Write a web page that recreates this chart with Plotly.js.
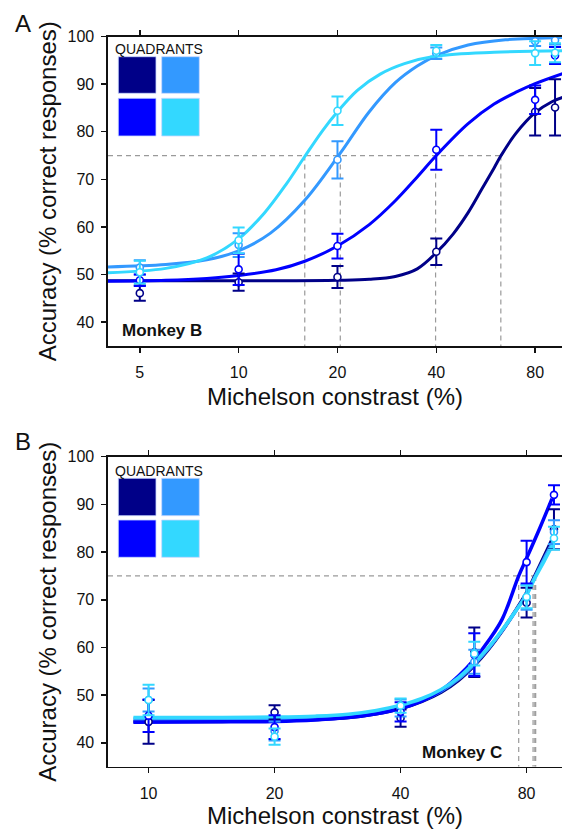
<!DOCTYPE html>
<html>
<head>
<meta charset="utf-8">
<script src="https://cdn.plot.ly/plotly-3.0.1.min.js"></script>
<style>html,body{margin:0;padding:0;background:#fff;}#chart{width:562px;height:829px;}</style>
</head>
<body>
<div id="chart"></div>
<script>
// ---------------- DATA ----------------
const quadrantNames = ['Q1', 'Q2', 'Q3', 'Q4'];
const quadrantColors = ['#000088', '#3399FF', '#0000FF', '#33D8FF'];

// Panel A (Monkey B)
const tickValsA = [5, 10, 20, 40, 80];
const tickTextA = ['5', '10', '20', '40', '80'];
const contrastA = [5, 10, 20, 40, 80, 92];
const accA_Q1 = [46.1, 48.4, 49.5, 54.8, 84.2, 85.1];
const errA_Q1 = [1.6, 1.8, 2.3, 2.8, 5.0, 5.9];
const accA_Q2 = [51.5, 56.2, 74.1, 96.5, 99.0, 99.2];
const errA_Q2 = [1.5, 2.5, 3.9, 1.2, 1.0, 0.9];
const accA_Q3 = [48.8, 51.1, 56.0, 76.2, 86.7, 96.0];
const errA_Q3 = [1.2, 3.3, 2.6, 4.2, 3.0, 1.8];
const accA_Q4 = [50.5, 57.2, 84.4, 97.0, 96.5, 96.6];
const errA_Q4 = [2.4, 2.7, 3.0, 1.2, 2.5, 2.0];

// fitted curves panel A
const fitXA_Q1 = [4, 15, 20, 25, 30, 35, 40, 45, 50, 55, 60, 63, 70, 80, 90, 97];
const fitYA_Q1 = [48.7, 48.7, 48.8, 49.0, 49.6, 51.2, 54.6, 58.5, 63.0, 67.9, 72.4, 75, 79.7, 84, 86.3, 87.2];
const fitXA_Q2 = [4, 6, 8, 10, 12.5, 15.9, 20.4, 25, 30, 35, 40, 50, 65, 97];
const fitYA_Q2 = [51.6, 52.1, 53.1, 55, 58.7, 65.6, 75.5, 84.2, 90.3, 93.8, 96, 98.2, 99.3, 99.8];
const fitXA_Q3 = [4, 6, 8, 10, 13, 15.9, 20, 25, 30, 35, 40, 50, 60, 70, 80, 97];
const fitYA_Q3 = [48.6, 48.8, 49.2, 49.8, 51, 52.8, 56, 60.5, 65.5, 70.5, 75, 81.7, 85.8, 88.3, 90.1, 92.2];
const fitXA_Q4 = [4, 6, 8, 10, 12, 14, 15.9, 18, 20, 23, 27, 32, 40, 60, 97];
const fitYA_Q4 = [50.4, 51.3, 53.5, 57.5, 63, 69.1, 74.8, 80.2, 84.2, 88.7, 92.1, 94.3, 95.9, 96.7, 97];
const thresholdsA = [15.9, 20.4, 39.8, 62.9];

// Panel B (Monkey C)
const tickValsB = [10, 20, 40, 80];
const tickTextB = ['10', '20', '40', '80'];
const contrastB = [10, 20, 40, 60, 80, 93];
const accB_Q1 = [44.4, 46.4, 45.2, 59.0, 69.4, 84.8];
const errB_Q1 = [4.6, 1.5, 1.8, 5.2, 3.1, 4.2];
const accB_Q2 = [49.0, 42.5, 47.3, 57.0, 70.5, 84.2];
const errB_Q2 = [2.4, 2.0, 1.8, 2.5, 2.6, 2.5];
const accB_Q3 = [45.7, 43.3, 46.5, 58.5, 77.9, 92.0];
const errB_Q3 = [3.4, 2.5, 2.0, 4.5, 4.5, 2.0];
const accB_Q4 = [49.0, 41.3, 47.8, 58.7, 70.6, 82.9];
const errB_Q4 = [3.2, 1.7, 1.5, 2.5, 2.4, 2.4];

const fitXB = [9.2, 15, 20, 25, 30, 35, 40, 45, 50, 55, 60, 65, 70, 75, 80, 84, 88, 93];
const fitYB_Q1 = [44.5, 44.5, 44.6, 44.9, 45.3, 46.1, 47.2, 48.7, 50.6, 53.1, 56.2, 59.7, 63.5, 67.5, 71.5, 75.3, 79, 83.5];
const fitYB_Q2 = [45.0, 45.0, 45.1, 45.3, 45.7, 46.4, 47.5, 48.9, 50.9, 53.4, 56.5, 59.9, 63.6, 67.4, 71.2, 75.0, 78.5, 82.5];
const fitYB_Q4 = [45.3, 45.3, 45.4, 45.6, 46.0, 46.8, 47.9, 49.3, 51.2, 53.7, 56.8, 60.1, 63.7, 67.4, 71.0, 74.8, 78, 82];
const fitXB_Q3 = [9.2, 15, 20, 25, 30, 35, 40, 45, 50, 55, 60, 65, 70, 76.6, 80, 86, 92];
const fitYB_Q3 = [44.3, 44.4, 44.5, 44.8, 45.3, 46.1, 47.2, 48.8, 51, 54, 57.5, 61.5, 66, 75, 78.7, 85, 91.2];
const thresholdsB = [76.6, 82.9, 83.7, 84.1];

const criterion = 75;
const yRange = [35, 100];
const yTicks = [40, 50, 60, 70, 80, 90, 100];
const xRangeA = [4.0, 96.6];
const xRangeB = [8.0, 97.2];

// ---------------- BUILD ----------------
const FONT = 'Liberation Sans, Arial, Helvetica, sans-serif';
const W = 562, H = 829, ML = 108;
const px = x => (x - ML) / (W - ML);
const py = y => (H - y) / H;

const traces = [];
function dashTraces(th, xr, xa, ya) {
  const vx = [], vy = [];
  th.forEach(t => { vx.push(t, t, null); vy.push(criterion, yRange[0], null); });
  traces.push({x: vx, y: vy, xaxis: xa, yaxis: ya, mode: 'lines', hoverinfo: 'skip',
    line: {color: '#9a9a9a', width: 1.2, dash: '5px,4px'}, showlegend: false});
  traces.push({x: [xr[0], Math.max(...th)], y: [criterion, criterion], xaxis: xa, yaxis: ya, mode: 'lines',
    hoverinfo: 'skip', line: {color: '#9a9a9a', width: 1.2, dash: '5px,4px'}, showlegend: false});
}
function fit(x, y, c, xa, ya, w) {
  traces.push({x, y, xaxis: xa, yaxis: ya, mode: 'lines', line: {color: c, width: w, shape: 'spline', smoothing: 1},
    showlegend: false, hoverinfo: 'skip'});
}
function pts(x, y, e, c, xa, ya, name) {
  traces.push({x, y, xaxis: xa, yaxis: ya, mode: 'markers', name,
    error_y: {type: 'data', array: e, visible: true, color: c, thickness: 2, width: 6},
    marker: {symbol: 'circle', size: 7, color: 'white', line: {color: c, width: 1.6}}, showlegend: false});
}

dashTraces(thresholdsA, xRangeA, 'x', 'y');
dashTraces(thresholdsB, xRangeB, 'x2', 'y2');

const fitsA = [[fitXA_Q1, fitYA_Q1], [fitXA_Q2, fitYA_Q2], [fitXA_Q3, fitYA_Q3], [fitXA_Q4, fitYA_Q4]];
const ptsA = [[accA_Q1, errA_Q1], [accA_Q2, errA_Q2], [accA_Q3, errA_Q3], [accA_Q4, errA_Q4]];
const fitsB = [[fitXB, fitYB_Q1], [fitXB, fitYB_Q2], [fitXB_Q3, fitYB_Q3], [fitXB, fitYB_Q4]];
const ptsB = [[accB_Q1, errB_Q1], [accB_Q2, errB_Q2], [accB_Q3, errB_Q3], [accB_Q4, errB_Q4]];

fitsA.forEach((f, i) => fit(f[0], f[1], quadrantColors[i], 'x', 'y', 3));
ptsA.forEach((p, i) => pts(contrastA, p[0], p[1], quadrantColors[i], 'x', 'y', quadrantNames[i]));
fitsB.forEach((f, i) => fit(f[0], f[1], quadrantColors[i], 'x2', 'y2', 3.5));
ptsB.forEach((p, i) => pts(contrastB, p[0], p[1], quadrantColors[i], 'x2', 'y2', quadrantNames[i]));

const tickFont = {family: FONT, size: 16, color: '#111'};
const titleFont = {family: FONT, size: 24, color: '#111'};
function xAxis(range, tv, tt, anchor) {
  return {type: 'log', range: range.map(Math.log10), tickvals: tv, ticktext: tt, anchor,
    showline: true, linecolor: '#111', linewidth: 1.6, mirror: 'ticks', ticks: 'outside', ticklen: 5,
    tickwidth: 1.5, tickcolor: '#111', showgrid: false, zeroline: false, tickfont: tickFont,
    ticklabelstandoff: 6,
    title: {text: 'Michelson constrast (%)', font: titleFont, standoff: 8}};
}
function yAxis(domain, anchor) {
  return {range: yRange, tickvals: yTicks, domain, anchor, showline: true, linecolor: '#111', linewidth: 1.6,
    ticks: 'outside', ticklen: 5, tickwidth: 1.5, tickcolor: '#111', showgrid: false, zeroline: false,
    tickfont: tickFont, ticklabelstandoff: 4,
    title: {text: 'Accuracy (% correct responses)', font: titleFont, standoff: 4}};
}

const shapes = [];
function squares(rows) {
  const cols = [[118.3, 156], [161.7, 199.3]];
  const order = [[0, 1], [2, 3]];
  rows.forEach((r, ri) => cols.forEach((c, ci) => {
    shapes.push({type: 'rect', xref: 'paper', yref: 'paper', x0: px(c[0]), x1: px(c[1]), y0: py(r[1]), y1: py(r[0]),
      fillcolor: quadrantColors[order[ri][ci]], line: {color: '#c8d8ff', width: 0.8}, layer: 'above'});
  }));
}
squares([[56.7, 93.3], [98.3, 136]]);
squares([[478.3, 515.7], [520, 557.3]]);

function ann(text, x, y, size, bold) {
  return {text: bold ? '<b>' + text + '</b>' : text, xref: 'paper', yref: 'paper', x: px(x), y: py(y),
    xanchor: 'center', yanchor: 'middle', showarrow: false, font: {family: FONT, size, color: '#111'}};
}
const annotations = [
  ann('A', 23, 23.5, 24), ann('B', 22.5, 441.5, 24),
  ann('QUADRANTS', 159, 49.3, 14), ann('QUADRANTS', 159, 470.7, 14),
  ann('Monkey B', 162, 330, 17, true), ann('Monkey C', 461.5, 752.7, 17, true)
];

const layout = {
  width: W, height: H, margin: {l: ML, r: 0, t: 0, b: 0}, paper_bgcolor: '#fff', plot_bgcolor: '#fff',
  showlegend: false, font: {family: FONT},
  xaxis: xAxis(xRangeA, tickValsA, tickTextA, 'y'),
  yaxis: yAxis([py(346), py(36.5)], 'x'),
  xaxis2: xAxis(xRangeB, tickValsB, tickTextB, 'y2'),
  yaxis2: yAxis([py(766.7), py(456.7)], 'x2'),
  shapes, annotations
};
Plotly.newPlot('chart', traces, layout, {staticPlot: true, displayModeBar: false});
</script>
</body>
</html>
